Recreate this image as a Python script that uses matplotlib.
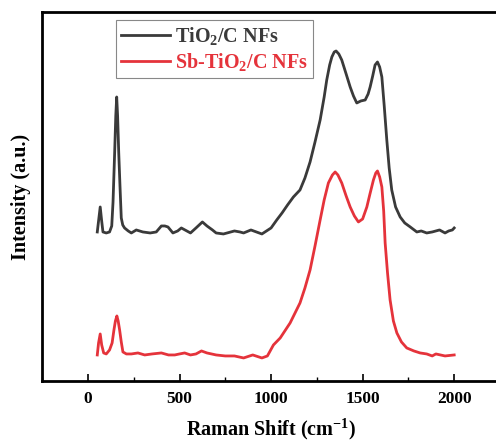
import numpy as np
import matplotlib
matplotlib.use("Agg")
import matplotlib.pyplot as plt
from matplotlib.ticker import MultipleLocator

# Data (intensity in arbitrary units)
shift_tio2 = [51, 58, 67, 75, 82, 100, 118, 130, 137, 146, 152, 157, 162, 168, 175,
              182, 190, 200, 220, 237, 264, 300, 340, 373, 401, 420, 437, 464, 490,
              510, 530, 560, 590, 625, 650, 680, 700, 740, 780, 800, 830, 850, 890,
              920, 950, 975, 1000, 1031, 1060, 1090, 1122, 1158, 1185, 1213, 1240,
              1268, 1290, 1304, 1320, 1332, 1345, 1355, 1370, 1386, 1410, 1432, 1450,
              1468, 1490, 1514, 1530, 1541, 1555, 1568, 1581, 1593, 1605, 1618, 1632,
              1645, 1659, 1680, 1705, 1730, 1760, 1796, 1820, 1850, 1880, 1920, 1950,
              1970, 1990, 2000]
int_tio2 = [149, 160, 174, 160, 149, 148, 149, 155, 179, 229, 265, 284, 265, 229, 195,
            163, 156, 153, 150, 148, 151, 149, 148, 149, 155, 155, 154, 148, 150,
            153, 151, 148, 153, 159, 155, 151, 148, 147, 149, 150, 149, 148, 151,
            149, 147, 150, 153, 161, 168, 176, 184, 191, 203, 219, 239,
            261, 284, 301, 316, 324, 329, 330, 327, 321, 307, 294, 285,
            278, 280, 281, 287, 294, 305, 316, 319, 314, 304, 275, 241,
            213, 191, 174, 164, 158, 154, 149, 150, 148, 149, 151, 148,
            150, 151, 153]

shift_sb = [51, 58, 67, 75, 86, 100, 118, 132, 142, 150, 158, 165, 173, 182, 191,
            210, 237, 273, 310, 350, 401, 440, 474, 500, 528, 560, 590, 620, 650,
            700, 750, 800, 850, 900, 950, 980, 1013, 1050, 1104, 1158, 1185, 1213,
            1240, 1268, 1290, 1313, 1335, 1350, 1365, 1386, 1410, 1432, 1455, 1477,
            1500, 1523, 1540, 1559, 1572, 1581, 1593, 1605, 1615, 1623, 1636, 1650,
            1668, 1687, 1712, 1741, 1780, 1814, 1850, 1880, 1900, 1950, 2000]
int_sb = [26, 38, 47, 36, 28, 27, 31, 38, 51, 60, 65, 60, 51, 39, 29,
          27, 27, 28, 26, 27, 28, 26, 26, 27, 28, 26, 27, 30, 28,
          26, 25, 25, 23, 26, 23, 25, 36, 43, 58, 78, 93, 111,
          135, 161, 181, 198, 206, 209, 206, 198, 185, 174, 165, 159,
          162, 174, 187, 201, 208, 210, 204, 194, 170, 138, 108, 81,
          60, 48, 39, 33, 30, 28, 27, 25, 27, 25, 26]

plt.rcParams['font.family'] = ['Liberation Serif', 'DejaVu Serif']
plt.rcParams['font.weight'] = 'bold'
plt.rcParams['mathtext.fontset'] = 'custom'
plt.rcParams['mathtext.rm'] = 'Liberation Serif:bold'
plt.rcParams['mathtext.bf'] = 'Liberation Serif:bold'
plt.rcParams['mathtext.default'] = 'rm'

fig = plt.figure(figsize=(4.96, 4.44), dpi=100)
ax = fig.add_axes([0.085, 0.142, 0.923, 0.831])

black = '#3a3a3a'
red = '#e5333b'
ax.plot(shift_tio2, int_tio2, color=black, lw=2.0, label='TiO$_2$/C NFs')
ax.plot(shift_sb, int_sb, color=red, lw=2.0, label='Sb-TiO$_2$/C NFs')

ax.set_xlim(-250, 2250)
ax.set_ylim(0, 369)
ax.xaxis.set_major_locator(MultipleLocator(500))
ax.xaxis.set_minor_locator(MultipleLocator(250))
ax.set_yticks([])
ax.tick_params(axis='x', which='major', direction='in', length=5, width=1.2,
               labelsize=12.5, pad=7)
ax.tick_params(axis='x', which='minor', direction='in', length=3, width=1.0)
for lab in ax.get_xticklabels():
    lab.set_fontweight('bold')
for sp in ax.spines.values():
    sp.set_linewidth(2)

ax.set_xlabel('Raman Shift (cm$^{-1}$)', fontsize=14.5, fontweight='bold', labelpad=7)
ax.set_ylabel('Intensity (a.u.)', fontsize=14.5, fontweight='bold', labelpad=8)

leg = ax.legend(loc='upper left', bbox_to_anchor=(0.162, 0.978), fontsize=14.5,
                handlelength=2.4, fancybox=False, edgecolor='#888888',
                framealpha=1, borderpad=0.25, labelspacing=0.2, handletextpad=0.25,
                borderaxespad=0)
leg.get_frame().set_linewidth(0.8)
leg.get_texts()[0].set_color(black)
leg.get_texts()[1].set_color(red)

fig.savefig('out.png', dpi=100)
